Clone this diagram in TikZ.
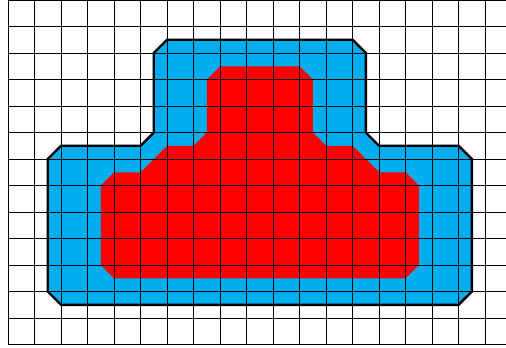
\documentclass[tikz,border=0pt]{standalone}
\definecolor{cellblue}{HTML}{00AEEF}
\definecolor{cellred}{HTML}{FF0000}
\tikzset{
  gridline/.style={black, line width=0.8pt},
  outlinepath/.style={black, line width=2.6pt, line join=miter},
}
\begin{document}
\begin{tikzpicture}[x=1cm, y=-1cm]
\useasboundingbox (-0.302,0) rectangle (18.79,13.094);
\clip (-0.302,0) rectangle (18.79,13.094);
\fill[white] (-0.302,0) rectangle (18.79,13.094);
% blue region
\fill[cellblue] (5.5,2.0) -- (6.0,1.5) -- (13.0,1.5) -- (13.5,2.0) -- (13.5,5.0) -- (14.0,5.5) -- (17.0,5.5) -- (17.5,6.0) -- (17.5,11.0) -- (17.0,11.5) -- (2.0,11.5) -- (1.5,11.0) -- (1.5,6.0) -- (2.0,5.5) -- (5.0,5.5) -- (5.5,5.0) -- cycle;
% red region
\fill[cellred] (7.5,3.0) -- (8.0,2.5) -- (11.0,2.5) -- (11.5,3.0) -- (11.5,5.0) -- (12.0,5.5) -- (13.0,5.5) -- (14.0,6.5) -- (15.0,6.5) -- (15.5,7.0) -- (15.5,10.0) -- (15.0,10.5) -- (4.0,10.5) -- (3.5,10.0) -- (3.5,7.0) -- (4.0,6.5) -- (5.0,6.5) -- (6.0,5.5) -- (7.0,5.5) -- (7.5,5.0) -- cycle;
% grid
\foreach \i in {0,...,19} \draw[gridline] (\i,0) -- (\i,13);
\foreach \j in {0,...,13} \draw[gridline] (0,\j) -- (19,\j);
% outline
\draw[outlinepath] (5.5,2.0) -- (6.0,1.5) -- (13.0,1.5) -- (13.5,2.0) -- (13.5,5.0) -- (14.0,5.5) -- (17.0,5.5) -- (17.5,6.0) -- (17.5,11.0) -- (17.0,11.5) -- (2.0,11.5) -- (1.5,11.0) -- (1.5,6.0) -- (2.0,5.5) -- (5.0,5.5) -- (5.5,5.0) -- cycle;
\end{tikzpicture}
\end{document}
